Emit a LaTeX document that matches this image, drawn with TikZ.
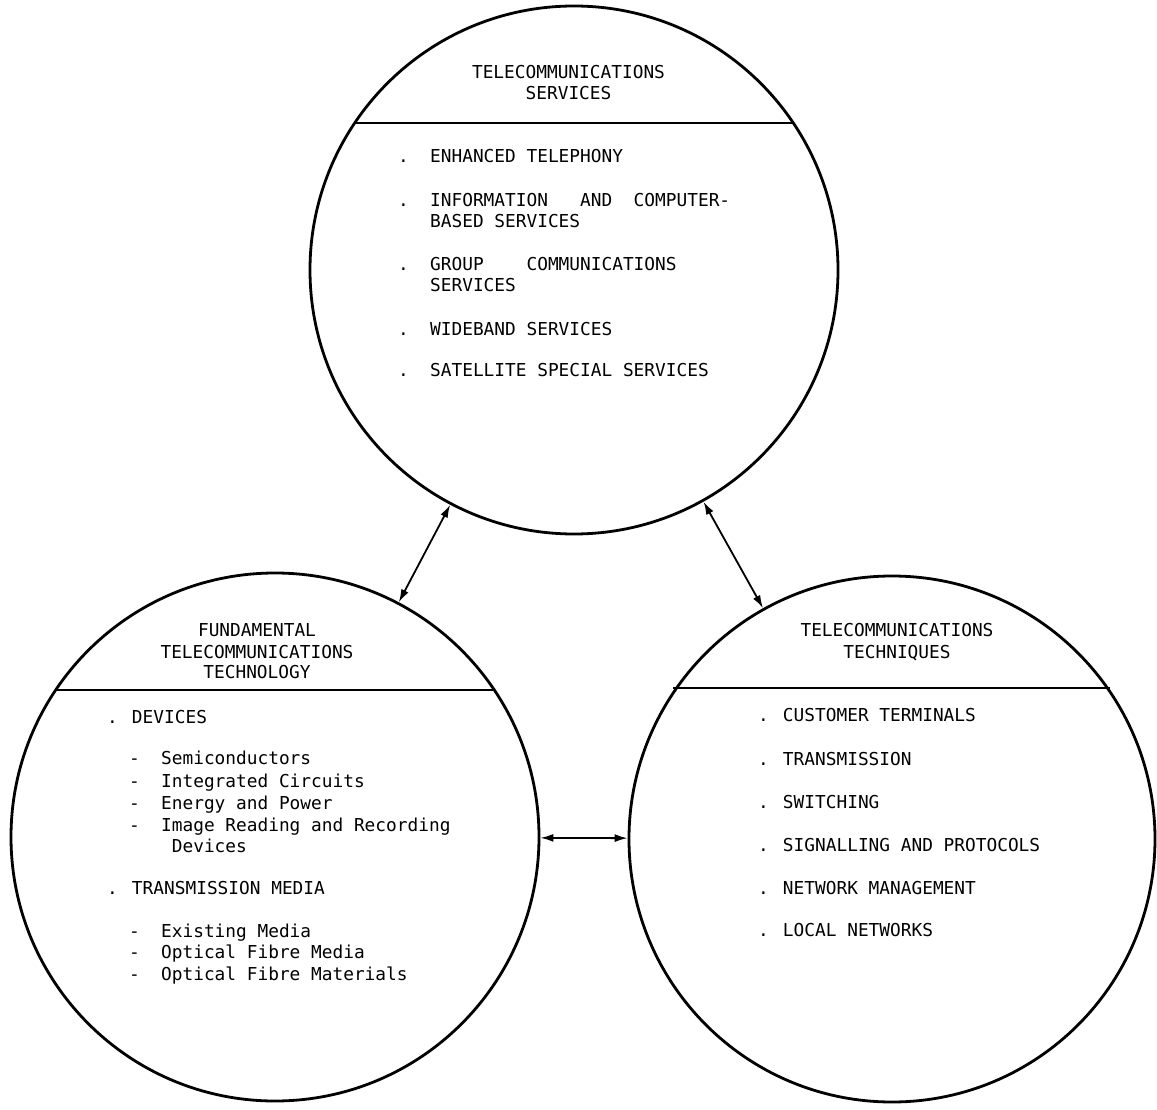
\documentclass[tikz,border=0pt]{standalone}
\usepackage{fontspec}
\newfontfamily\typew{DejaVu Sans Mono}
\usetikzlibrary{arrows.meta}
\begin{document}
\begin{tikzpicture}[x=1pt,y=-1pt,
  ring/.style={circle,draw,line width=2.8pt,minimum size=528pt,inner sep=0pt},
  divider/.style={line width=2.8pt},
  txt/.style={font=\typew\fontsize{17.8}{21.5}\selectfont,inner sep=0pt,outer sep=0pt,anchor=base west},
  ttl/.style={font=\typew\fontsize{17.8}{21.5}\selectfont,inner sep=0pt,outer sep=0pt,anchor=base},
  link/.style={line width=1.8pt,{Latex[length=13pt,width=8pt]}-{Latex[length=13pt,width=8pt]}}]
\fill[white] (0,0) rectangle (1157,1110);
\useasboundingbox (0,0) rectangle (1157,1110);

% circles
\node[ring] (srv) at (574,270) {};
\node[ring] (tech) at (275,837) {};
\node[ring,minimum size=526pt] (tq) at (892,839) {};

% dividers
\draw[divider] (355,123) -- (793,123);
\draw[divider] (56,690) -- (494,690);
\draw[divider] (673,688) -- (1110,688);

% connectors
\draw[link] (srv) -- (tech);
\draw[link] (srv) -- (tq);
\draw[link] (tech) -- (tq);

% top circle
\node[ttl] (s1) at (568.5,78.5) {TELECOMMUNICATIONS};
\node[ttl] (s2) at (568.5,100) {SERVICES};
\node[txt] (s3) at (398,163) {.~~ENHANCED TELEPHONY};
\node[txt] (s4) at (398,206.5) {.~~INFORMATION~~~AND~~COMPUTER-};
\node[txt] (s5) at (398,227.5) {~~~BASED SERVICES};
\node[txt] (s6) at (398,270) {.~~GROUP~~~~COMMUNICATIONS};
\node[txt] (s7) at (398,291.5) {~~~SERVICES};
\node[txt] (s8) at (398,335) {.~~WIDEBAND SERVICES};
\node[txt] (s9) at (398,376.5) {.~~SATELLITE SPECIAL SERVICES};

% bottom-left circle
\node[ttl] (f1) at (257,636.5) {FUNDAMENTAL};
\node[ttl] (f2) at (257,658) {TELECOMMUNICATIONS};
\node[ttl] (f3) at (257,678.5) {TECHNOLOGY};
\node[txt] (f4) at (107,723.5) {. DEVICES};
\node[txt] (f5) at (129,764.5) {-~~Semiconductors};
\node[txt] (f6) at (129,787) {-~~Integrated Circuits};
\node[txt] (f7) at (129,809.5) {-~~Energy and Power};
\node[txt] (f8) at (129,831.5) {-~~Image Reading and Recording};
\node[txt] (f9) at (129,852.5) {~~~~Devices};
\node[txt] (f10) at (107,894.5) {. TRANSMISSION MEDIA};
\node[txt] (f11) at (129,937.5) {-~~Existing Media};
\node[txt] (f12) at (129,958.5) {-~~Optical Fibre Media};
\node[txt] (f13) at (129,980.5) {-~~Optical Fibre Materials};

% bottom-right circle
\node[ttl] (t1) at (897,636.5) {TELECOMMUNICATIONS};
\node[ttl] (t2) at (897,658) {TECHNIQUES};
\node[txt] (t3) at (758,721.5) {. CUSTOMER TERMINALS};
\node[txt] (t4) at (758,765) {. TRANSMISSION};
\node[txt] (t5) at (758,808) {. SWITCHING};
\node[txt] (t6) at (758,851.5) {. SIGNALLING AND PROTOCOLS};
\node[txt] (t7) at (758,894) {. NETWORK MANAGEMENT};
\node[txt] (t8) at (758,936.5) {. LOCAL NETWORKS};
\end{tikzpicture}
\end{document}
